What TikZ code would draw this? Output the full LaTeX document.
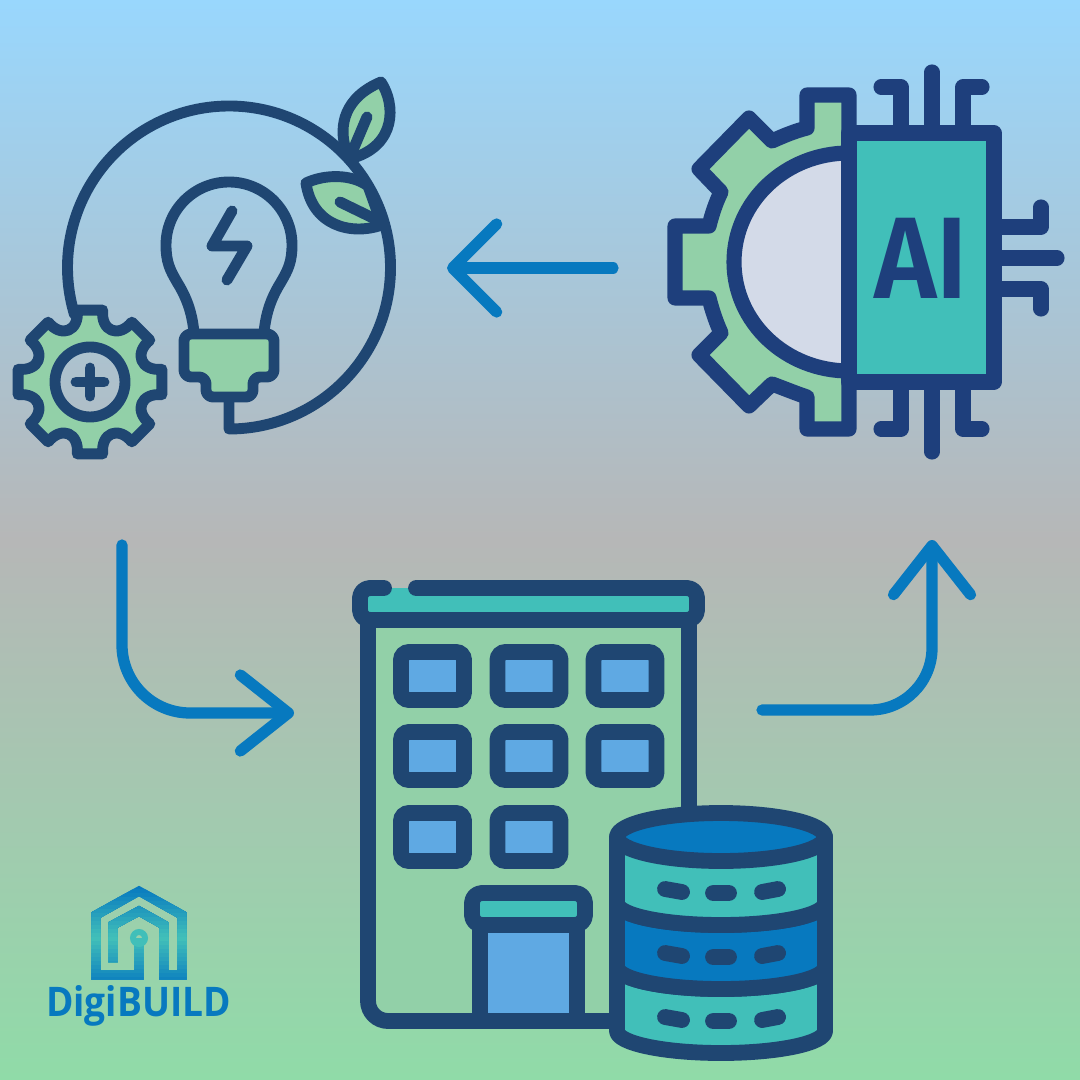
\documentclass[tikz,border=0pt]{standalone}
\usepackage{fontspec}
\usepackage{graphicx}
\usepackage{xcolor}
\usepackage{tikz}
\usetikzlibrary{arrows.meta,positioning,calc}
\newfontfamily\logofont{Open Sans}[BoldFont={Open Sans Bold}]
\newfontfamily\chipfont{Fira Sans SemiBold}
\definecolor{skytop}{HTML}{99D7FD}
\definecolor{midgray}{HTML}{B6B7B7}
\definecolor{floorgreen}{HTML}{90DBA8}
\definecolor{navya}{HTML}{1F4672}
\definecolor{navyb}{HTML}{1E3F7C}
\definecolor{leaf}{HTML}{92D0A8}
\definecolor{tealfill}{HTML}{41BFB9}
\definecolor{halfdisc}{HTML}{D3DAE8}
\definecolor{glass}{HTML}{5FA9E3}
\definecolor{flowblue}{HTML}{0779BF}
\tikzset{
  bulbline/.style ={draw=navya,line width=3.1pt,line join=round,line cap=round},
  chipline/.style ={draw=navyb,line width=4.3pt,line join=round,line cap=round},
  bldline/.style  ={draw=navya,line width=4.5pt,line join=round,line cap=round},
  logoline/.style ={line width=2.6pt,line join=miter},
  win/.style      ={rectangle,draw=navya,fill=glass,line width=4.5pt,rounded corners=0.08cm,
                    minimum width=0.63cm,minimum height=0.48cm,inner sep=0pt},
  flowarrow/.style={draw=flowblue,line width=3.2pt,line cap=round,line join=round},
}
\newcommand{\logopath}{(139,938) -- (139,975) -- (96,975) -- (96,915) -- (139,891) -- (182,915)
  -- (182,975) -- (164,975) -- (164,925) -- (139,911) -- (113,925) -- (113,962)}

\begin{document}
\begin{tikzpicture}[x=0.01cm,y=-0.01cm]
  \useasboundingbox (0,0) rectangle (1080,1080);
  \shade[top color=skytop,bottom color=floorgreen,middle color=midgray] (0,0) rectangle (1080,1080);

  % bulb, ring and gear
  \draw[bulbline] (229,397) -- (229,429) arc[start angle=90,end angle=-197,radius=161.5];
  \draw[bulbline,fill=leaf] (346,150) .. controls (338,125) and (345,97) .. (381,82)
    .. controls (396,105) and (396,145) .. (353,158) -- cycle;
  \draw[bulbline] (367,117) -- (353,150);
  \draw[bulbline,fill=leaf] (306,183) .. controls (325,174) and (352,174) .. (368,186)
    -- (382,225) .. controls (350,236) and (312,225) .. (306,183) -- cycle;
  \draw[bulbline] (340,202) -- (377,220);
  \draw[bulbline] (194,333) .. controls (192,310) and (185,295) .. (177,282)
    .. controls (170,270) and (166,262) .. (166,245) arc[start angle=180,end angle=360,radius=63]
    .. controls (292,262) and (288,270) .. (281,282) .. controls (273,295) and (266,310) .. (264,333);
  \draw[bulbline,fill=leaf,rounded corners=0.07cm] (184,334) -- (274,334) -- (274,377) -- (253,377)
    -- (253,397) -- (206,397) -- (206,377) -- (184,377) -- cycle;
  \draw[bulbline] (232,211) -- (212,246) -- (247,246) -- (227,280);
  \begin{scope}[shift={(90,382)}]
    \draw[bulbline,fill=leaf,even odd rule] (-100:73)
      \foreach \a in {-90,-45,...,225}{ -- (\a-10:73) -- (\a+10:73)
        .. controls (\a+12:52) and (\a+33:52) .. (\a+35:73)} -- cycle
      (0,0) circle[radius=35];
    \draw[bulbline] (-14,0) -- (14,0) (0,-14) -- (0,14);
  \end{scope}

  % chip and half gear
  \draw[chipline] (932,72) -- (932,133) (932,382) -- (932,452) (994,258) -- (1057,258);
  \draw[chipline] (881,87) -- (901,87) -- (901,133) (982,87) -- (963,87) -- (963,133);
  \draw[chipline] (881,429) -- (901,429) -- (901,382) (982,429) -- (963,429) -- (963,382);
  \draw[chipline] (1041,207) -- (1041,227) -- (994,227) (1041,309) -- (1041,289) -- (994,289);
  \draw[chipline,fill=leaf] (849,95) -- (807,95) -- (807,128) .. controls (795,131) and (783,136) .. (772,141)
    -- (749,118) -- (699,169) -- (721,192) .. controls (716,202) and (712,214) .. (709,226)
    -- (675,226) -- (675,298) -- (709,298) .. controls (712,310) and (716,322) .. (721,333)
    -- (699,355) -- (749,406) -- (772,384) .. controls (783,388) and (795,393) .. (807,397)
    -- (807,429) -- (849,429) -- cycle;
  \draw[chipline,fill=halfdisc] (849,153) arc[start angle=270,end angle=90,x radius=115,y radius=109] -- cycle;
  \draw[chipline,fill=tealfill] (849,133) rectangle (994,382);
  \node[text=navyb,font=\chipfont\fontsize{33pt}{33pt}\selectfont,inner sep=0pt] (ailabel) at (921,258)
    {\scalebox{0.92}[1]{AI}};

  % building
  \draw[bldline,fill=leaf] (368,620) [rounded corners=0.2cm] -- (368,1021) [sharp corners] -- (689,1021) -- (689,620) -- cycle;
  \fill[tealfill] (360,588) rectangle (697,620);
  \draw[bldline,rounded corners=0.1cm] (416,588) -- (697,588) -- (697,620) -- (360,620) -- (360,588) -- (384,588);
  \foreach \c/\x in {1/432.5,2/529,3/625}{
    \foreach \r/\y in {1/676,2/756}{
      \node[win] (win\r\c) at (\x,\y){};
    }
  }
  \node[win] (win31) at (432.5,837){};
  \node[win] (win32) at (529,837){};
  \draw[bldline,fill=glass] (480,925) -- (480,1021) -- (577,1021) -- (577,925) -- cycle;
  \draw[bldline,fill=tealfill,rounded corners=0.1cm] (472,893) -- (585,893) -- (585,925) -- (472,925) -- cycle;

  % database
  \foreach \t/\b/\col in {967/1031/tealfill,903/967/flowblue,837/903/tealfill}{
    \draw[bldline,fill=\col] (617,\t) -- (617,\b) arc[start angle=180,end angle=0,x radius=104,y radius=22]
      -- (825,\t) arc[start angle=0,end angle=180,x radius=104,y radius=22] -- cycle;
  }
  \draw[bldline,fill=flowblue] (721,837) circle[x radius=104,y radius=24];
  \foreach \d in {0,64,128}{
    \draw[bldline] (665,889+\d) -- (682,892+\d) (713,893+\d) -- (729,893+\d) (762,892+\d) -- (778,889+\d);
  }

  % arrows
  \coordinate (aistart) at (613,268);
  \coordinate (aiend)   at (447,268);
  \coordinate (bulbstart) at (122,545);
  \coordinate (bulbend)   at (294,713);
  \coordinate (dbstart) at (762,710);
  \coordinate (dbend)   at (932,540);
  \draw[flowarrow,-{Straight Barb[length=0.44cm,width=0.88cm,round]}] (aistart) -- (aiend);
  \draw[flowarrow,rounded corners=0.68cm,-{Straight Barb[length=0.48cm,width=0.76cm,round]}] (bulbstart) |- (bulbend);
  \draw[flowarrow,rounded corners=0.62cm,-{Straight Barb[length=0.49cm,width=0.77cm,round]}] (dbstart) -| (dbend);

  % logo
  \foreach \y [evaluate=\y as \p using {(\y-885)*2}] in {885,889,...,933}{
    \begin{scope}
      \clip (80,\y) rectangle (200,985);
      \draw[logoline,draw=tealfill!\p!flowblue] \logopath;
    \end{scope}
  }
  \foreach \y [evaluate=\y as \p using {(\y-937)*2.1}] in {937,941,...,981}{
    \begin{scope}
      \clip (80,\y) rectangle (200,985);
      \draw[logoline,draw=flowblue!\p!tealfill] \logopath;
    \end{scope}
  }
  \draw[line width=1.7pt,draw=tealfill] (139,938) circle[radius=6];
  \node[text=flowblue,font=\logofont\bfseries\fontsize{11.6pt}{11.6pt}\selectfont,inner sep=0pt] (logotext) at (138.5,1006)
    {\scalebox{0.91}[1]{DigiBUILD}};
\end{tikzpicture}
\end{document}
